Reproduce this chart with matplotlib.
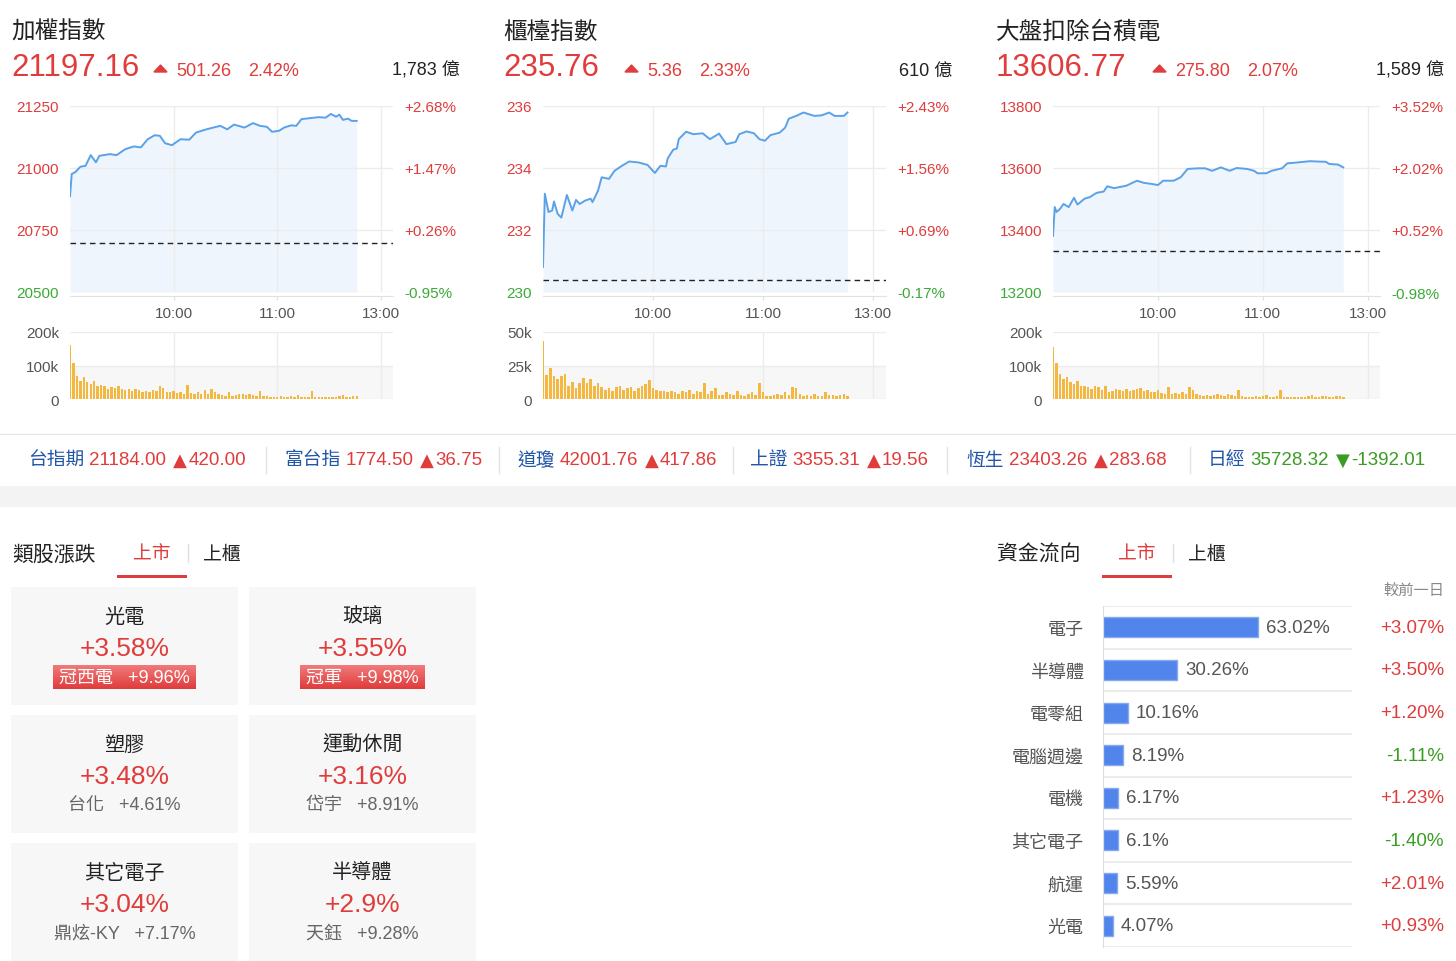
import matplotlib
matplotlib.use("Agg")
import matplotlib.pyplot as plt
import numpy as np
from matplotlib.patches import Rectangle, Polygon
from matplotlib.lines import Line2D
from matplotlib.colors import LinearSegmentedColormap

plt.rcParams['font.family'] = ['Liberation Sans', 'Noto Sans CJK TC', 'DejaVu Sans']

W, H = 1456, 962
RED = '#e03c3c'
GREEN = '#3aaa35'
DARK = '#222222'
GREY = '#555555'
LINE = '#5aa2e8'
FILL = '#eef5fc'
VOL = '#f4b740'
BLUE = '#2356a8'

# ---- index headers ----
index_names = ['加權指數', '櫃檯指數', '大盤扣除台積電']
index_close = [21197.16, 235.76, 13606.77]
index_change = [501.26, 5.36, 275.80]
index_pct = ['2.42%', '2.33%', '2.07%']
index_turnover = ['1,783 億', '610 億', '1,589 億']

# ---- intraday lines (minutes after 9:00) ----
taiex_t = [0, 1, 3, 6, 9, 12, 15, 17, 23, 27, 32, 37, 41, 45, 49, 52, 55, 59, 64, 69, 73, 79, 83,
           87, 91, 95, 101, 106, 110, 114, 117, 121, 124, 128, 131, 134, 139, 144, 148, 151, 154,
           156, 158, 161, 163, 166]
taiex_v = [20886, 20976, 20983, 21005, 21009, 21052, 21023, 21049, 21056, 21052, 21076, 21087,
           21083, 21116, 21132, 21130, 21100, 21092, 21116, 21114, 21143, 21156, 21163, 21170,
           21156, 21175, 21163, 21181, 21170, 21166, 21146, 21150, 21163, 21172, 21170, 21197,
           21201, 21205, 21203, 21218, 21207, 21215, 21194, 21199, 21190, 21190]

otc_t = [0, 1, 3, 5, 6, 8, 10, 13, 16, 18, 20, 23, 26, 27, 30, 32, 36, 39, 43, 47, 52, 57, 59, 61,
         64, 67, 68, 71, 73, 74, 78, 82, 87, 91, 96, 100, 105, 107, 111, 115, 118, 121, 124, 129,
         132, 134, 138, 142, 148, 152, 156, 159, 164, 166]
otc_v = [230.81, 233.17, 232.58, 232.63, 232.92, 232.52, 232.40, 233.13, 232.63, 232.97, 232.84,
         232.95, 233.01, 232.90, 233.27, 233.70, 233.65, 233.91, 234.07, 234.21, 234.18, 234.10,
         233.97, 233.84, 234.07, 234.05, 234.31, 234.59, 234.63, 234.93, 235.17, 235.09, 235.12,
         234.93, 235.11, 234.77, 234.84, 235.09, 235.18, 235.12, 234.93, 234.88, 235.06, 235.14,
         235.30, 235.59, 235.68, 235.79, 235.68, 235.70, 235.79, 235.68, 235.68, 235.79]

extsmc_t = [0, 1, 2, 4, 6, 9, 12, 14, 18, 21, 25, 29, 31, 35, 42, 48, 52, 56, 60, 63, 69, 73, 77,
            83, 87, 91, 96, 101, 105, 111, 115, 117, 122, 125, 131, 134, 140, 147, 151, 156, 158,
            163, 166]
extsmc_v = [13381, 13474, 13458, 13468, 13484, 13474, 13504, 13482, 13501, 13506, 13520, 13524,
            13541, 13535, 13543, 13559, 13552, 13549, 13545, 13559, 13559, 13570, 13597, 13599,
            13599, 13591, 13602, 13591, 13600, 13597, 13591, 13583, 13583, 13591, 13599, 13615,
            13618, 13622, 13621, 13620, 13613, 13611, 13602]

# ---- volume (k), one bar per 2 minutes ----
vol_t = list(range(0, 168, 2))
taiex_vol = [160, 108, 70, 55, 65, 50, 45, 55, 40, 42, 40, 30, 35, 32, 38, 30, 28, 30, 25, 30,
             28, 22, 25, 22, 28, 25, 38, 32, 22, 20, 25, 18, 20, 15, 42, 18, 15, 20, 15, 28,
             15, 30, 22, 15, 12, 10, 22, 10, 12, 14, 15, 12, 16, 12, 8, 25, 10, 8, 7, 6,
             7, 8, 6, 5, 8, 6, 12, 5, 6, 7, 25, 5, 5, 6, 7, 5, 6, 5, 8, 12, 6, 5, 10, 8]
otc_vol = [43, 18, 23, 17, 15, 17, 19, 10, 13, 8, 12, 16, 12, 15, 10, 12, 9, 7, 8, 6,
           9, 10, 7, 8, 9, 6, 8, 10, 11, 14, 8, 7, 6, 6, 5, 6, 5, 4, 6, 5,
           7, 4, 6, 5, 12, 4, 6, 8, 3, 3, 5, 4, 3, 6, 3, 2, 4, 5, 3, 12,
           5, 2, 2, 3, 4, 3, 5, 3, 9, 8, 4, 2, 3, 2, 4, 2, 2, 5, 3, 3, 2, 3, 4, 2]
extsmc_vol = [155, 108, 75, 60, 65, 50, 45, 55, 38, 40, 35, 30, 40, 35, 28, 38, 20, 25, 30, 28,
              25, 30, 25, 28, 30, 32, 25, 28, 22, 20, 28, 18, 15, 35, 15, 18, 15, 22, 15, 35,
              28, 15, 12, 10, 12, 10, 12, 15, 12, 8, 15, 12, 8, 28, 8, 7, 6, 7, 8, 6,
              10, 12, 6, 5, 8, 28, 6, 5, 6, 7, 5, 6, 5, 8, 12, 6, 5, 10, 8, 6, 5, 10, 8, 6]

price_ticks = [[20500, 20750, 21000, 21250], [230, 232, 234, 236], [13200, 13400, 13600, 13800]]
vol_ticks = [[0, 100, 200], [0, 25, 50], [0, 100, 200]]
time_ticks = [60, 120, 180]
time_labels = ['10:00', '11:00', '13:00']

# ---- ticker strip ----
tick_names = ['台指期', '富台指', '道瓊', '上證', '恆生', '日經']
tick_vals = ['21184.00', '1774.50', '42001.76', '3355.31', '23403.26', '35728.32']
tick_chgs = [420.00, 36.75, 417.86, 19.56, 283.68, -1392.01]

# ---- sector tiles ----
sector_names = ['光電', '玻璃', '塑膠', '運動休閒', '其它電子', '半導體']
sector_pct = ['+3.58%', '+3.55%', '+3.48%', '+3.16%', '+3.04%', '+2.9%']
leader_names = ['冠西電', '冠軍', '台化', '岱宇', '鼎炫-KY', '天鈺']
leader_pct = [9.96, 9.98, 4.61, 8.91, 7.17, 9.28]

# ---- fund flow ----
flow_names = ['電子', '半導體', '電零組', '電腦週邊', '電機', '其它電子', '航運', '光電']
flow_share = [63.02, 30.26, 10.16, 8.19, 6.17, 6.1, 5.59, 4.07]
flow_chg = [3.07, 3.50, 1.20, -1.11, 1.23, -1.40, 2.01, 0.93]

fig = plt.figure(figsize=(W / 100, H / 100), dpi=100)
fig.patch.set_facecolor('white')
renderer = fig.canvas.get_renderer()


def add_ax(x0, y0, x1, y1, **kw):
    return fig.add_axes([x0 / W, 1 - y1 / H, (x1 - x0) / W, (y1 - y0) / H], **kw)


def ftext(x, y, s, **kw):
    return fig.text(x / W, 1 - y / H, s, **kw)


def fline(xs, ys, **kw):
    fig.add_artist(Line2D([x / W for x in xs], [1 - y / H for y in ys],
                          transform=fig.transFigure, **kw))


def frect(x0, y0, x1, y1, **kw):
    fig.add_artist(Rectangle((x0 / W, 1 - y1 / H), (x1 - x0) / W, (y1 - y0) / H,
                             transform=fig.transFigure, **kw))


# ---------------- top charts ----------------
chart_x = [(70, 393), (543, 886), (1053, 1380)]
head_x = [11, 503, 996]
tri_x = [154, 625, 1153]
turn_right = [460, 952, 1444]
series = [(taiex_t, taiex_v, taiex_vol), (otc_t, otc_v, otc_vol), (extsmc_t, extsmc_v, extsmc_vol)]

for i in range(3):
    x0, x1 = chart_x[i]
    t, v, vol = series[i]
    close = index_close[i]
    prev = close - index_change[i]
    yt = price_ticks[i]

    # header
    ftext(head_x[i], 33, index_names[i], fontsize=17, color=DARK, va='center')
    ftext(head_x[i], 76, f'{close:.2f}', fontsize=22.5, color=RED, va='baseline')
    tx = tri_x[i]
    fig.add_artist(Polygon([(tx / W, 1 - 73 / H), ((tx + 13) / W, 1 - 73 / H), ((tx + 6.5) / W, 1 - 66 / H)],
                           closed=True, color=RED, transform=fig.transFigure))
    c = ftext(tx + 22, 76, f'{index_change[i]:.2f}', fontsize=13, color=RED, va='baseline')
    bb = c.get_window_extent(renderer)
    ftext(bb.x1 + 17, 76, index_pct[i], fontsize=13, color=RED, va='baseline')
    ftext(turn_right[i], 76, index_turnover[i], fontsize=13, color=DARK, va='baseline', ha='right')

    # price chart
    ax = add_ax(x0, 107, x1, 293)
    ax.fill_between(t, v, yt[0], color=FILL, lw=0)
    ax.plot(t, v, color=LINE, lw=1.4)
    ax.axhline(prev, color='#222222', lw=1, ls=(0, (4, 3)))
    ax.set_xlim(0, 187)
    ax.set_ylim(yt[0], yt[-1])
    ax.set_yticks(yt, [f'{y:g}' for y in yt])
    for lab, y in zip(ax.get_yticklabels(), yt):
        lab.set_color(RED if y > prev else GREEN)
    ax.set_xticks(time_ticks, time_labels)
    ax.grid(True, color='#ececec', lw=1)
    ax.tick_params(axis='y', length=0, pad=8, labelsize=11)
    ax.tick_params(axis='x', length=3, color='#e0e0e0', pad=4, labelsize=11, labelcolor=GREY)
    for s in ['top', 'left', 'right']:
        ax.spines[s].set_visible(False)
    ax.spines['bottom'].set_color('#e2e2e2')
    ax.spines['bottom'].set_position(('outward', 3))
    ax.set_facecolor('none')

    ax2 = ax.twinx()
    ax2.set_ylim(ax.get_ylim())
    ax2.set_yticks(yt, [f'{(y - prev) / prev * 100:+.2f}%' for y in yt])
    for lab, y in zip(ax2.get_yticklabels(), yt):
        lab.set_color(RED if y > prev else GREEN)
    ax2.tick_params(axis='y', length=0, pad=8, labelsize=11)
    for s in ax2.spines.values():
        s.set_visible(False)

    # volume chart
    vt = vol_ticks[i]
    axv = add_ax(x0, 333, x1, 400)
    axv.axhspan(0, vt[1], color='#f7f7f7', lw=0, zorder=0)
    axv.bar(vol_t, vol, width=1.4, color=VOL, lw=0, zorder=2)
    axv.set_xlim(0, 187)
    axv.set_ylim(0, vt[-1])
    axv.set_yticks(vt, ['0' if y == 0 else f'{y}k' for y in vt])
    axv.set_xticks(time_ticks)
    axv.grid(True, color='#ececec', lw=1)
    axv.tick_params(axis='x', length=0, labelbottom=False)
    axv.tick_params(axis='y', length=0, pad=8, labelsize=11, labelcolor=GREY)
    for s in axv.spines.values():
        s.set_visible(False)
    axv.set_facecolor('none')

# ---------------- ticker strip ----------------
fline([0, W], [435, 435], color='#e6e6e6', lw=1)
frect(0, 487, W, 508, color='#f3f3f3', lw=0)
tick_x = [28, 284, 517, 750, 966, 1208]
sep_x = [266, 499, 733, 947, 1190]
for sx in sep_x:
    fline([sx, sx], [448, 474], color='#e2e2e2', lw=1)
for i in range(len(tick_names)):
    n = ftext(tick_x[i], 461, tick_names[i], fontsize=13.5, color=BLUE, va='center')
    x = n.get_window_extent(renderer).x1 + 5
    col = RED if tick_chgs[i] >= 0 else '#3a9d23'
    v = ftext(x, 461, tick_vals[i], fontsize=13.5, color=col, va='center')
    x = v.get_window_extent(renderer).x1 + 7
    mark = '▲' if tick_chgs[i] >= 0 else '▼'
    m = ftext(x, 461, mark, fontsize=13, color=col, va='center', family='DejaVu Sans')
    x = m.get_window_extent(renderer).x1 + 1
    ftext(x, 461, f'{tick_chgs[i]:.2f}', fontsize=13.5, color=col, va='center')

# ---------------- section headers ----------------
for hx, title, tab_c, sep, tab2, ul in [(12, '類股漲跌', 152, 188, 203, (117, 187)),
                                         (997, '資金流向', 1137, 1173, 1188, (1102, 1172))]:
    ftext(hx, 555, title, fontsize=15, color=DARK, va='center')
    ftext(tab_c, 555, '上市', fontsize=13.5, color=RED, va='center', ha='center')
    fline([sep, sep], [545, 563], color='#e0e0e0', lw=1)
    ftext(tab2, 555, '上櫃', fontsize=13.5, color=DARK, va='center')
    frect(ul[0], 575.5, ul[1], 578.5, color=RED, lw=0)

# ---------------- sector tiles ----------------
badge_cmap = LinearSegmentedColormap.from_list('badge', ['#f07a7a', '#e03c3c'])
tile_cols = [(11, 238), (249, 476)]
tile_rows = [588, 716, 844]
for k in range(len(sector_names)):
    cx0, cx1 = tile_cols[k % 2]
    top = tile_rows[k // 2]
    frect(cx0, top, cx1, top + 118, color='#f7f7f7', lw=0, zorder=0.5)
    cx = (cx0 + cx1) / 2
    ftext(cx, top + 29, sector_names[k], fontsize=14.5, color=DARK, ha='center', va='center')
    ftext(cx, top + 61, sector_pct[k], fontsize=19, color=RED, ha='center', va='center')
    sub = f'{leader_names[k]}   +{leader_pct[k]:.2f}%'
    if leader_pct[k] >= 9.5:
        st = ftext(cx, top + 90, sub, fontsize=13, color='white', ha='center', va='center',
                   zorder=5)
        bb = st.get_window_extent(renderer)
        bax = add_ax(bb.x0 - 6, top + 78, bb.x1 + 6, top + 102)
        bax.set_zorder(2)
        bax.imshow(np.linspace(0, 1, 24).reshape(-1, 1), aspect='auto', cmap=badge_cmap,
                   extent=[0, 1, 0, 1])
        bax.axis('off')
    else:
        ftext(cx, top + 90, sub, fontsize=13, color='#666666', ha='center', va='center')

# ---------------- fund flow bars ----------------
ftext(1444, 591, '較前一日', fontsize=11, color='#888888', ha='right', va='center')
axf = add_ax(1103, 607, 1352, 948)
rows = np.arange(len(flow_names))
axf.barh(rows, flow_share, height=0.47, color='#5285eb', edgecolor='#86a9f0', lw=1)
axf.set_xlim(0, 101.5)
axf.set_ylim(len(flow_names) - 0.5, -0.5)
for r in range(len(flow_names) + 1):
    axf.axhline(r - 0.5, color='#ececec', lw=1.5, zorder=0)
axf.set_yticks(rows, flow_names)
axf.tick_params(axis='y', length=0, pad=14, labelsize=13, labelcolor=GREY)
axf.set_xticks([])
for s in ['top', 'right', 'bottom']:
    axf.spines[s].set_visible(False)
axf.spines['left'].set_color('#dddddd')
for r, (share, chg) in enumerate(zip(flow_share, flow_chg)):
    axf.annotate(f'{share:g}%', (share, r), xytext=(8, 0), textcoords='offset pixels',
                 va='center', fontsize=13.5, color=GREY)
    axf.text(1.369, r, f'{chg:+.2f}%', transform=axf.get_yaxis_transform(), ha='right',
             va='center', fontsize=13.5, color=RED if chg > 0 else '#3a9d23')

fig.savefig('out.png', dpi=100)
